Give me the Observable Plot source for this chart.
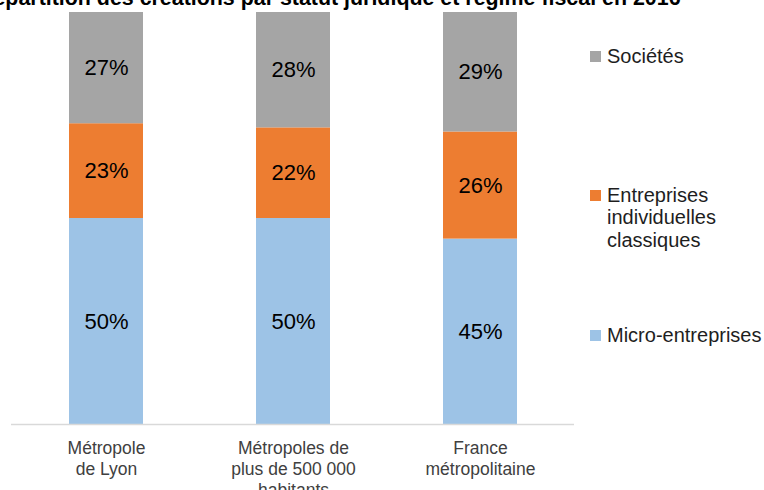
<!DOCTYPE html>
<html>
<head>
<meta charset="utf-8">
<script src="https://cdn.jsdelivr.net/npm/d3@7"></script>
<script src="https://cdn.jsdelivr.net/npm/@observablehq/plot@0.6"></script>
<style>
  html, body { margin: 0; padding: 0; background: #fff; overflow: hidden; }
  #wrap { position: relative; width: 764px; height: 490px; font-family: "Liberation Sans", Arial, sans-serif; }
  #title { position: absolute; left: -22px; top: -12.1px; font-size: 21.4px; line-height: 21.4px; font-weight: bold; white-space: nowrap; color: #000; }
  .leg { position: absolute; left: 590px; font-size: 20px; line-height: 22.5px; color: #1e1e1e; }
  .leg .sw { position: absolute; left: 0; width: 11px; height: 11px; }
  .leg .tx { position: absolute; left: 17px; white-space: nowrap; }
</style>
</head>
<body>
<div id="wrap">
  <div id="chart"></div>
  <div id="title">Répartition des créations par statut juridique et régime fiscal en 2016</div>
  <div id="legend"></div>
</div>
<script>
const categories = ["Métropole de Lyon", "Métropoles de plus de 500 000 habitants", "France métropolitaine"];
const tickLabels = ["Métropole\nde Lyon", "Métropoles de\nplus de 500 000\nhabitants", "France\nmétropolitaine"];
const series = ["Micro-entreprises", "Entreprises individuelles classiques", "Sociétés"];
const microEntreprises = [50, 50, 45];
const entreprisesIndividuelles = [23, 22, 26];
const societes = [27, 28, 29];
const colors = ["#9DC3E6", "#ED7D31", "#A5A5A5"];
const legendLines = [["Micro-entreprises"], ["Entreprises", "individuelles", "classiques"], ["Sociétés"]];

const valuesBySeries = [microEntreprises, entreprisesIndividuelles, societes];
const data = [];
series.forEach((s, si) => {
  categories.forEach((c, ci) => {
    data.push({cat: c, serie: s, value: valuesBySeries[si][ci]});
  });
});

const chart = Plot.plot({
  width: 764,
  height: 490,
  marginLeft: 11,
  marginRight: 190,
  marginTop: 12,
  marginBottom: 66,
  style: {fontFamily: "'Liberation Sans', Arial, sans-serif", color: "#404040", background: "white"},
  x: {domain: categories, paddingInner: 0.605, paddingOuter: 0.3025, align: 0.5, label: null},
  y: {domain: [0, 100], axis: null},
  color: {domain: series, range: colors},
  marks: [
    Plot.barY(data, {x: "cat", y: "value", fill: "serie", order: series}),
    Plot.text(data, Plot.stackY({x: "cat", y: "value", z: "serie", order: series, text: d => d.value + "%", fill: "#000", fontSize: 22})),
    Plot.ruleY([0], {stroke: "#D9D9D9", strokeWidth: 1.5}),
    Plot.axisX({tickSize: 0, tickPadding: 15, fontSize: 17.5, lineHeight: 1.19, label: null,
      tickFormat: d => tickLabels[categories.indexOf(d)]})
  ]
});
document.getElementById("chart").appendChild(chart);

// Legend
const legendTops = {"Sociétés": 44.8, "Entreprises individuelles classiques": 183.8, "Micro-entreprises": 323.8};
const legend = document.getElementById("legend");
series.forEach((s, i) => {
  const top = legendTops[s];
  const item = document.createElement("div");
  item.className = "leg";
  item.style.top = top + "px";
  const sw = document.createElement("div");
  sw.className = "sw";
  sw.style.background = colors[i];
  sw.style.top = "6.5px";
  item.appendChild(sw);
  const tx = document.createElement("div");
  tx.className = "tx";
  tx.innerHTML = legendLines[i].join("<br>");
  item.appendChild(tx);
  legend.appendChild(item);
});
</script>
</body>
</html>
